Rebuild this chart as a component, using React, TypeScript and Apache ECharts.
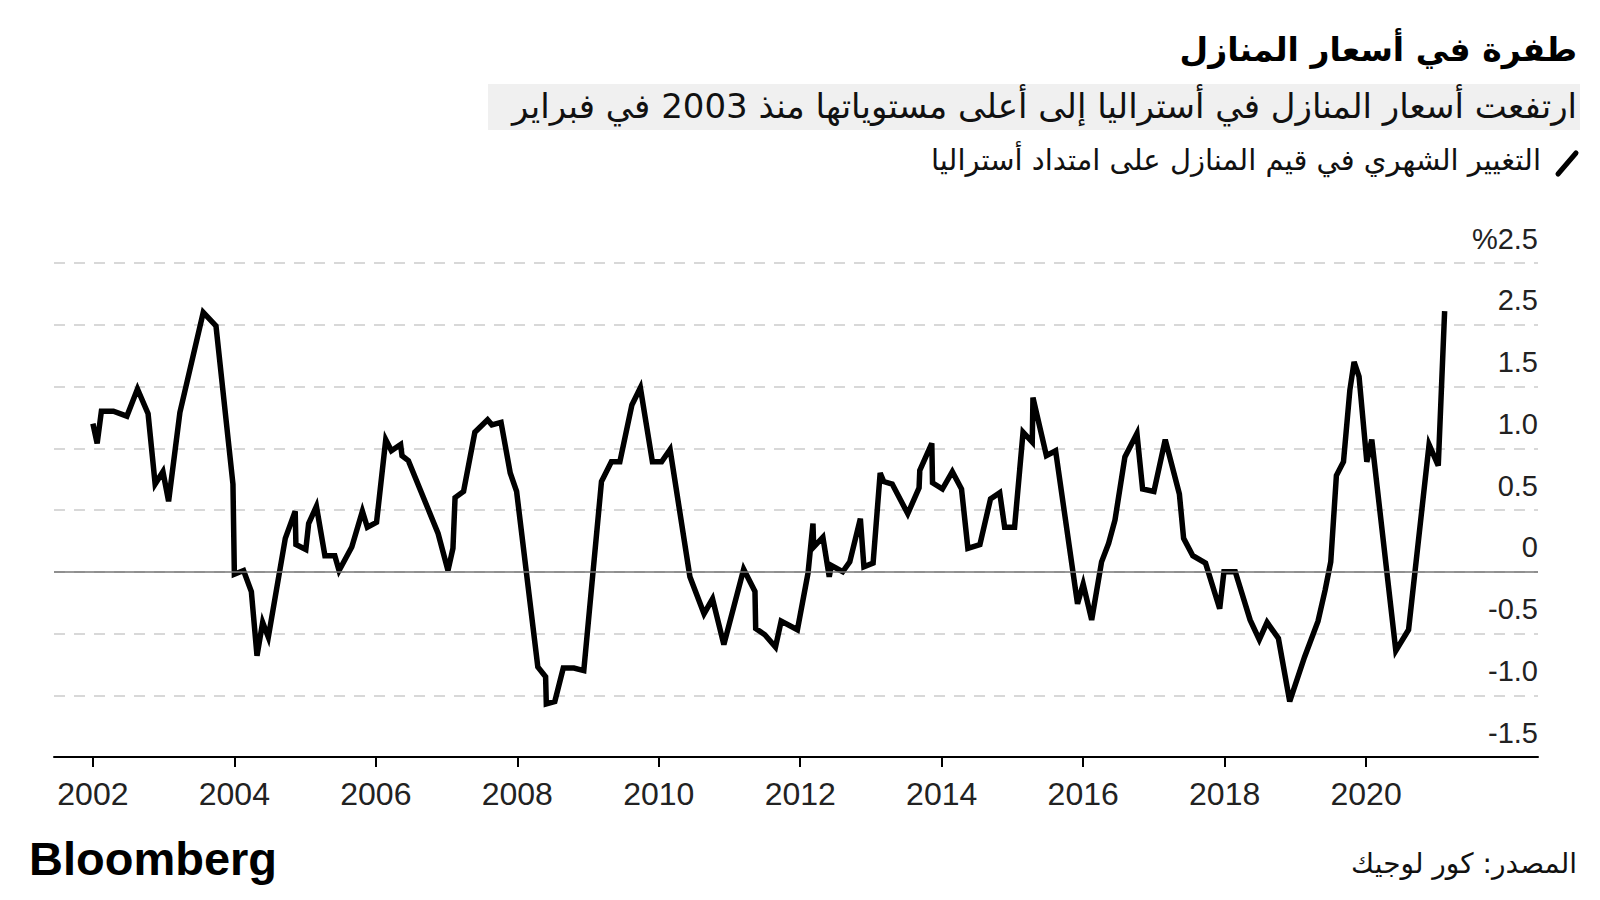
import React, { useEffect, useRef } from 'react';
import * as echarts from 'echarts';

// Observation dates (fractional years) and monthly change in home values, %
const obsYears = [
  2002.00, 2002.06, 2002.12, 2002.29, 2002.48, 2002.63, 2002.78, 2002.88, 2002.99,
  2003.07, 2003.23, 2003.56, 2003.74, 2003.98,
  2004.00, 2004.13, 2004.24, 2004.32, 2004.40, 2004.48, 2004.72, 2004.86, 2004.87,
  2005.01, 2005.05, 2005.16, 2005.28, 2005.42, 2005.48, 2005.66, 2005.81, 2005.88,
  2006.01, 2006.14, 2006.22, 2006.35, 2006.37, 2006.46, 2006.88,
  2007.02, 2007.09, 2007.12, 2007.24, 2007.40, 2007.58, 2007.64, 2007.77, 2007.90, 2007.99,
  2008.29, 2008.40, 2008.41, 2008.53, 2008.65, 2008.80, 2008.94,
  2009.19, 2009.33, 2009.45, 2009.62, 2009.74, 2009.91,
  2010.04, 2010.16, 2010.44, 2010.64, 2010.76, 2010.92,
  2011.20, 2011.36, 2011.37, 2011.50, 2011.65, 2011.73, 2011.96,
  2012.11, 2012.18, 2012.19, 2012.32, 2012.41, 2012.44, 2012.60, 2012.70, 2012.85, 2012.90,
  2013.03, 2013.13, 2013.18, 2013.30, 2013.52, 2013.68, 2013.69, 2013.86, 2013.87,
  2014.01, 2014.15, 2014.28, 2014.37, 2014.54, 2014.69, 2014.82, 2014.89,
  2015.03, 2015.15, 2015.28, 2015.29, 2015.48, 2015.61, 2015.92,
  2016.00, 2016.12, 2016.26, 2016.36, 2016.45, 2016.59, 2016.76, 2016.84,
  2017.00, 2017.16, 2017.36, 2017.42, 2017.55, 2017.73, 2017.93, 2017.99,
  2018.15, 2018.36, 2018.49, 2018.60, 2018.76, 2018.92,
  2019.13, 2019.32, 2019.42, 2019.50, 2019.58, 2019.68, 2019.77, 2019.83, 2019.90,
  2020.01, 2020.08, 2020.42, 2020.60, 2020.89,
  2021.02, 2021.11,
];

const monthlyChange = [
  1.20, 1.04, 1.30, 1.30, 1.26, 1.48, 1.28, 0.71, 0.81,
  0.57, 1.29, 2.10, 1.99, 0.71,
  -0.02, 0.01, -0.16, -0.68, -0.41, -0.53, 0.27, 0.49, 0.22,
  0.18, 0.39, 0.53, 0.13, 0.13, 0.01, 0.20, 0.49, 0.36,
  0.40, 1.07, 0.98, 1.03, 0.94, 0.90, 0.31,
  0.01, 0.19, 0.60, 0.65, 1.13, 1.23, 1.19, 1.21, 0.80, 0.65,
  -0.77, -0.85, -1.07, -1.05, -0.78, -0.78, -0.80,
  0.73, 0.89, 0.89, 1.35, 1.49, 0.89,
  0.89, 0.99, -0.04, -0.34, -0.22, -0.59,
  0.02, -0.16, -0.46, -0.51, -0.61, -0.40, -0.47,
  -0.01, 0.39, 0.20, 0.28, -0.04, 0.05, 0.00, 0.08, 0.43, 0.04,
  0.07, 0.80, 0.73, 0.71, 0.47, 0.68, 0.82, 1.04, 0.72,
  0.67, 0.81, 0.67, 0.19, 0.22, 0.59, 0.64, 0.36,
  0.36, 1.13, 1.05, 1.41, 0.94, 0.98, -0.26,
  -0.10, -0.39, 0.08, 0.23, 0.42, 0.93, 1.12, 0.67,
  0.65, 1.07, 0.63, 0.27, 0.13, 0.07, -0.30, 0.00,
  0.00, -0.39, -0.55, -0.41, -0.54, -1.05,
  -0.69, -0.40, -0.15, 0.08, 0.78, 0.89, 1.47, 1.70, 1.58,
  0.89, 1.07, -0.64, -0.47, 1.03,
  0.86, 2.11,
];

const yearTicks = [2002, 2004, 2006, 2008, 2010, 2012, 2014, 2016, 2018, 2020];
const yTickValues = [-1.5, -1, -0.5, 0, 0.5, 1, 1.5, 2, 2.5];
const yTickLabels = ['-1.5', '-1.0', '-0.5', '0', '0.5', '1.0', '1.5', '2.5', '%2.5'];

const titleText = 'طفرة في أسعار المنازل';
const subtitleText = 'ارتفعت أسعار المنازل في أستراليا إلى أعلى مستوياتها منذ 2003 في فبراير';
const legendText = 'التغيير الشهري في قيم المنازل على امتداد أستراليا';
const sourceText = 'المصدر: كور لوجيك';
const brandText = 'Bloomberg';

const ARABIC_FONT = '"DejaVu Sans", "Noto Sans", sans-serif';
const LATIN_FONT = '"Liberation Sans", Arial, sans-serif';

export default function App() {
  const ref = useRef<HTMLDivElement>(null);

  useEffect(() => {
    document.body.style.margin = '0';
    if (!ref.current) return;
    const chart = echarts.init(ref.current, undefined, { renderer: 'svg' });

    const seriesData = obsYears.map((t, i) => [t, monthlyChange[i]]);

    const option: any = {
      animation: false,
      backgroundColor: '#ffffff',
      grid: { left: 54, right: 62, top: 263, bottom: 143 },
      xAxis: {
        type: 'value',
        min: 2001.45,
        max: 2022.43,
        splitLine: { show: false },
        axisLine: { show: true, onZero: false, lineStyle: { color: '#000', width: 2 } },
        axisTick: {
          show: true,
          customValues: yearTicks,
          length: 10,
          lineStyle: { color: '#000', width: 2 },
        },
        axisLabel: {
          customValues: yearTicks,
          formatter: (v: number) => String(Math.round(v)),
          fontSize: 32,
          fontFamily: LATIN_FONT,
          color: '#222',
          margin: 21,
        },
      },
      yAxis: {
        type: 'value',
        position: 'right',
        min: -1.5,
        max: 2.5,
        interval: 0.5,
        axisLine: { show: false },
        axisTick: { show: false },
        splitLine: {
          show: true,
          lineStyle: { color: '#cccccc', type: [11, 9], width: 1.5 },
        },
        axisLabel: {
          inside: true,
          margin: 0,
          fontSize: 29,
          fontFamily: LATIN_FONT,
          color: '#222',
          verticalAlign: 'bottom',
          padding: [0, 0, 10, 0],
          formatter: (v: number) => {
            const idx = yTickValues.findIndex((tv) => Math.abs(tv - v) < 1e-6);
            return idx >= 0 ? yTickLabels[idx] : '';
          },
        },
      },
      series: [
        {
          type: 'line',
          z: 1,
          silent: true,
          data: seriesData,
          showSymbol: false,
          lineStyle: { opacity: 0 },
          markLine: {
            silent: true,
            symbol: ['none', 'none'],
            label: { show: false },
            lineStyle: { color: '#777', type: 'solid', width: 1.5 },
            data: [{ yAxis: 0 }],
          },
        },
        {
          type: 'line',
          z: 3,
          data: seriesData,
          showSymbol: false,
          symbol: 'none',
          lineStyle: { color: '#000', width: 5.5, join: 'miter', miterLimit: 4 },
        },
      ],
      graphic: [
        {
          type: 'text',
          right: 23,
          top: 33,
          style: {
            text: titleText,
            font: `bold 33px ${ARABIC_FONT}`,
            fill: '#000',
          },
        },
        {
          type: 'rect',
          shape: { x: 488, y: 84, width: 1092, height: 46 },
          style: { fill: '#f0f0f0' },
        },
        {
          type: 'text',
          right: 23,
          top: 89,
          style: {
            text: subtitleText,
            font: `34px ${ARABIC_FONT}`,
            fill: '#111',
          },
        },
        {
          type: 'line',
          shape: { x1: 1558, y1: 174, x2: 1576, y2: 153 },
          style: { stroke: '#000', lineWidth: 5, lineCap: 'round' },
        },
        {
          type: 'text',
          right: 59,
          top: 145,
          style: {
            text: legendText,
            font: `29px ${ARABIC_FONT}`,
            fill: '#111',
          },
        },
        {
          type: 'text',
          left: 29,
          top: 835,
          style: {
            text: brandText,
            font: `bold 47px ${LATIN_FONT}`,
            fill: '#000',
          },
        },
        {
          type: 'text',
          right: 23,
          top: 849,
          style: {
            text: sourceText,
            font: `28px ${ARABIC_FONT}`,
            fill: '#111',
          },
        },
      ],
    };

    chart.setOption(option);
    return () => {
      chart.dispose();
    };
  }, []);

  return <div ref={ref} style={{ width: 1600, height: 900 }} />;
}
